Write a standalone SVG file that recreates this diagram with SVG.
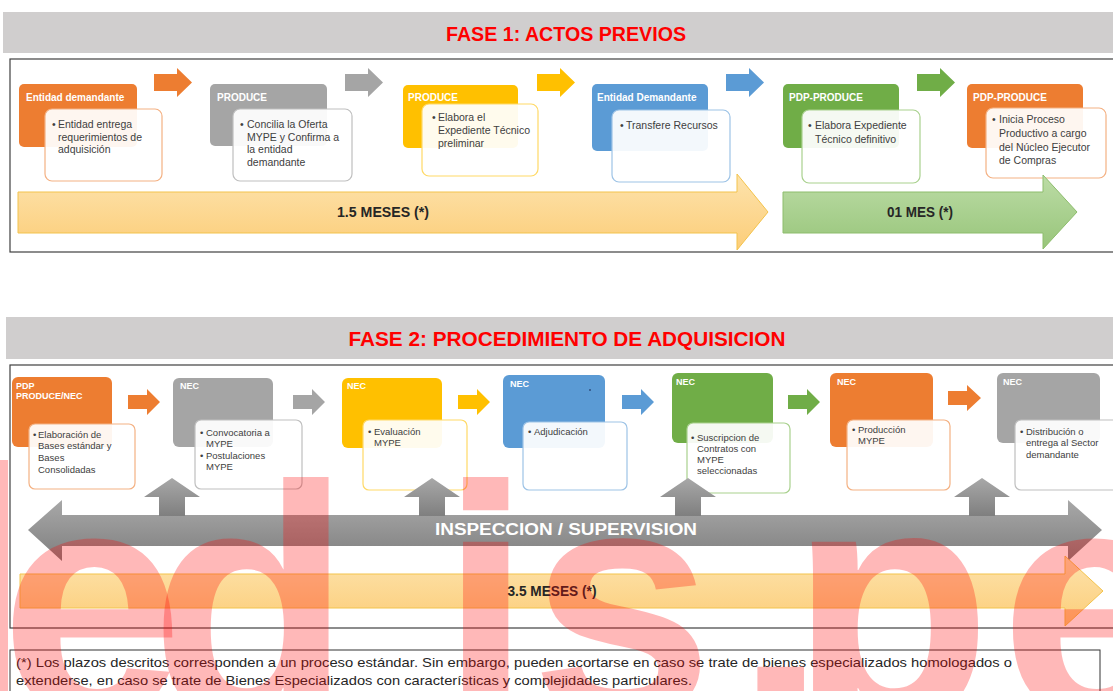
<svg xmlns="http://www.w3.org/2000/svg" width="1113" height="691" viewBox="0 0 1113 691">
<style>
text{font-family:"Liberation Sans",Arial,sans-serif}
.ttl{font-weight:bold;font-size:21px;fill:#ff0000}
.h1{font-weight:bold;font-size:10px;fill:#ffffff}
.h2{font-weight:bold;font-size:9px;fill:#ffffff}
.b1{font-size:10.5px;fill:#404040}
.b2{font-size:9.5px;fill:#404040}
.wb{fill:#ffffff;fill-opacity:0.93;stroke-width:1.2}
.frame{fill:none;stroke:#404040;stroke-width:1.2}
.big{font-weight:bold;font-size:15px;fill:#262626}
.org{fill:#ed7d31}.gry{fill:#a5a5a5}.yel{fill:#ffc000}.blu{fill:#5b9bd5}.grn{fill:#70ad47}
.so{stroke:#f4b183}.sg{stroke:#bfbfbf}.sy{stroke:#ffd966}.sb{stroke:#9dc3e6}.sn{stroke:#a9d18e}
.wm{font-weight:bold;font-size:330px;fill:#ff0000;fill-opacity:0.28}
</style>
<defs>
<linearGradient id="gy" x1="0" y1="0" x2="0" y2="1"><stop offset="0" stop-color="#fde3ad"/><stop offset="1" stop-color="#fccd78"/></linearGradient>
<linearGradient id="gg" x1="0" y1="0" x2="0" y2="1"><stop offset="0" stop-color="#bcdca6"/><stop offset="1" stop-color="#98c57a"/></linearGradient>
<linearGradient id="gs" x1="0" y1="0" x2="0" y2="1"><stop offset="0" stop-color="#a8a8a8"/><stop offset="1" stop-color="#7f7f7f"/></linearGradient>
</defs>
<rect width="1113" height="691" fill="#ffffff"/>

<!-- Phase 1 title -->
<g id="title1">
<rect x="3" y="12" width="1110" height="41" fill="#d0cece"/>
<text class="ttl" x="566" y="41" text-anchor="middle" textLength="240" lengthAdjust="spacingAndGlyphs">FASE 1: ACTOS PREVIOS</text>
</g>
<rect class="frame" x="10" y="59" width="1110" height="193"/>

<g id="p1n1">
<rect class="org" x="19" y="84" width="118" height="63" rx="5"/>
<text class="h1" x="26" y="101">Entidad demandante</text>
<rect class="wb so" x="45" y="109" width="117" height="72" rx="7"/>
<text class="b1" x="52" y="128">•</text>
<text class="b1"><tspan x="58" y="128">Entidad entrega</tspan><tspan x="58" y="141">requerimientos de</tspan><tspan x="58" y="153">adquisición</tspan></text>
</g>
<g id="p1n2">
<rect class="gry" x="210" y="84" width="117" height="62" rx="5"/>
<text class="h1" x="217" y="101">PRODUCE</text>
<rect class="wb sg" x="233" y="109" width="119" height="72" rx="7"/>
<text class="b1" x="240" y="128">•</text>
<text class="b1"><tspan x="247" y="128">Concilia la Oferta</tspan><tspan x="247" y="141">MYPE y Confirma a</tspan><tspan x="247" y="153">la entidad</tspan><tspan x="247" y="166">demandante</tspan></text>
</g>
<g id="p1n3">
<rect class="yel" x="403" y="85" width="115" height="63" rx="5"/>
<text class="h1" x="408" y="101">PRODUCE</text>
<rect class="wb sy" x="422" y="104" width="116" height="72" rx="7"/>
<text class="b1" x="432" y="121">•</text>
<text class="b1"><tspan x="438" y="121">Elabora el</tspan><tspan x="438" y="134">Expediente Técnico</tspan><tspan x="438" y="147">preliminar</tspan></text>
</g>
<g id="p1n4">
<rect class="blu" x="592" y="84" width="116" height="67" rx="5"/>
<text class="h1" x="597" y="101">Entidad Demandante</text>
<rect class="wb sb" x="612" y="110" width="118" height="72" rx="7"/>
<text class="b1" x="620" y="129">•</text>
<text class="b1" x="626" y="129">Transfere Recursos</text>
</g>
<g id="p1n5">
<rect class="grn" x="783" y="84" width="116" height="64" rx="5"/>
<text class="h1" x="789" y="101">PDP-PRODUCE</text>
<rect class="wb sn" x="802" y="110" width="118" height="73" rx="7"/>
<text class="b1" x="808" y="129">•</text>
<text class="b1"><tspan x="815" y="129">Elabora Expediente</tspan><tspan x="815" y="143">Técnico definitivo</tspan></text>
</g>
<g id="p1n6">
<rect class="org" x="967" y="84" width="116" height="64" rx="5"/>
<text class="h1" x="973" y="101">PDP-PRODUCE</text>
<rect class="wb so" x="986" y="108" width="120" height="70" rx="7"/>
<text class="b1" x="992" y="123">•</text>
<text class="b1"><tspan x="999" y="123">Inicia Proceso</tspan><tspan x="999" y="137">Productivo a cargo</tspan><tspan x="999" y="151">del Núcleo Ejecutor</tspan><tspan x="999" y="164">de Compras</tspan></text>
</g>

<g id="p1conn">
<path class="org" d="M154,74 H177 V68 L192,82.5 L177,97 V91 H154 Z"/>
<path class="gry" d="M345,74 H368 V68 L383,82.5 L368,97 V91 H345 Z"/>
<path class="yel" d="M537,74 H560 V68 L575,82.5 L560,97 V91 H537 Z"/>
<path class="blu" d="M726,74 H749 V68 L764,82.5 L749,97 V91 H726 Z"/>
<path class="grn" d="M917,74 H940 V68 L955,82.5 L940,97 V91 H917 Z"/>
</g>

<g id="p1time1">
<path d="M18,192 H737 V174 L768,212 L737,250 V233 H18 Z" fill="url(#gy)" stroke="#f3c34c" stroke-width="1"/>
<text class="big" x="383" y="217" text-anchor="middle" textLength="92" lengthAdjust="spacingAndGlyphs">1.5 MESES (*)</text>
</g>
<g id="p1time2">
<path d="M783,192 H1043 V175 L1077,212 L1043,249 V233 H783 Z" fill="url(#gg)" stroke="#8dbd6c" stroke-width="1"/>
<text class="big" x="920" y="217" text-anchor="middle" textLength="66" lengthAdjust="spacingAndGlyphs">01 MES (*)</text>
</g>

<!-- Phase 2 title -->
<g id="title2">
<rect x="6" y="317" width="1107" height="42" fill="#d0cece"/>
<text class="ttl" x="567" y="346" text-anchor="middle" textLength="437" lengthAdjust="spacingAndGlyphs">FASE 2: PROCEDIMIENTO DE ADQUISICION</text>
</g>
<rect class="frame" x="10" y="365" width="1110" height="263" stroke-width="1.6"/>

<g id="p2n1">
<rect class="org" x="12" y="377" width="100" height="70" rx="6"/>
<text class="h2"><tspan x="16" y="389">PDP</tspan><tspan x="16" y="399">PRODUCE/NEC</tspan></text>
<rect class="wb so" x="29" y="424" width="106" height="65" rx="6"/>
<text class="b2" x="33" y="438">•</text>
<text class="b2"><tspan x="38" y="438">Elaboración de</tspan><tspan x="38" y="449">Bases estándar y</tspan><tspan x="38" y="461">Bases</tspan><tspan x="38" y="473">Consolidadas</tspan></text>
</g>
<g id="p2n2">
<rect class="gry" x="173" y="378" width="100" height="69" rx="6"/>
<text class="h2" x="180" y="389">NEC</text>
<rect class="wb sg" x="195" y="420" width="107" height="69" rx="6"/>
<text class="b2" x="200" y="436">•</text>
<text class="b2"><tspan x="206" y="436">Convocatoria a</tspan><tspan x="206" y="447">MYPE</tspan></text>
<text class="b2" x="200" y="459">•</text>
<text class="b2"><tspan x="206" y="459">Postulaciones</tspan><tspan x="206" y="470">MYPE</tspan></text>
</g>
<g id="p2n3">
<rect class="yel" x="342" y="378" width="100" height="70" rx="6"/>
<text class="h2" x="347" y="389">NEC</text>
<rect class="wb sy" x="363" y="420" width="104" height="70" rx="6"/>
<text class="b2" x="368" y="435">•</text>
<text class="b2"><tspan x="374" y="435">Evaluación</tspan><tspan x="374" y="446">MYPE</tspan></text>
</g>
<g id="p2n4">
<rect class="blu" x="503" y="375" width="102" height="73" rx="6"/>
<text class="h2" x="510" y="387">NEC</text>
<circle cx="590" cy="390" r="1" fill="#2f4f7f"/>
<rect class="wb sb" x="523" y="422" width="104" height="68" rx="6"/>
<text class="b2" x="528" y="435">•</text>
<text class="b2" x="534" y="435">Adjudicación</text>
</g>
<g id="p2n5">
<rect class="grn" x="672" y="373" width="101" height="70" rx="6"/>
<text class="h2" x="676" y="385">NEC</text>
<rect class="wb sn" x="687" y="423" width="103" height="70" rx="6"/>
<text class="b2" x="691" y="441">•</text>
<text class="b2"><tspan x="697" y="441">Suscripcion de</tspan><tspan x="697" y="452">Contratos con</tspan><tspan x="697" y="463">MYPE</tspan><tspan x="697" y="474">seleccionadas</tspan></text>
</g>
<g id="p2n6">
<rect class="org" x="830" y="373" width="103" height="74" rx="6"/>
<text class="h2" x="837" y="385">NEC</text>
<rect class="wb so" x="847" y="420" width="103" height="70" rx="6"/>
<text class="b2" x="852" y="433">•</text>
<text class="b2"><tspan x="858" y="433">Producción</tspan><tspan x="858" y="444">MYPE</tspan></text>
</g>
<g id="p2n7">
<rect class="gry" x="997" y="373" width="103" height="70" rx="6"/>
<text class="h2" x="1003" y="385">NEC</text>
<rect class="wb sg" x="1015" y="420" width="110" height="70" rx="6"/>
<text class="b2" x="1020" y="435">•</text>
<text class="b2"><tspan x="1026" y="435">Distribución o</tspan><tspan x="1026" y="446">entrega al Sector</tspan><tspan x="1026" y="458">demandante</tspan></text>
</g>

<g id="p2conn">
<path class="org" d="M128,395 H147 V389 L160,402 L147,415 V409 H128 Z"/>
<path class="gry" d="M293,395 H312 V389 L325,402 L312,415 V409 H293 Z"/>
<path class="yel" d="M458,395 H477 V389 L490,402 L477,415 V409 H458 Z"/>
<path class="blu" d="M622,395 H641 V389 L654,402 L641,415 V409 H622 Z"/>
<path class="grn" d="M788,395 H807 V389 L820,402 L807,415 V409 H788 Z"/>
<path class="org" d="M948,391 H967 V385 L981,398 L967,411 V405 H948 Z"/>
</g>

<g id="inspeccion">
<path d="M28,530 L62,500 V515 H1068 V500 L1102,530 L1068,561 V546 H62 V561 Z" fill="url(#gs)"/>
<path d="M144,497 L172,478 L200,497 H185 V516 H159 V497 Z" fill="url(#gs)"/>
<path d="M404,497 L432,478 L460,497 H445 V516 H419 V497 Z" fill="url(#gs)"/>
<path d="M660,497 L688,478 L716,497 H701 V516 H675 V497 Z" fill="url(#gs)"/>
<path d="M954,497 L982,478 L1010,497 H995 V516 H969 V497 Z" fill="url(#gs)"/>
<text x="566" y="535" text-anchor="middle" font-weight="bold" font-size="16" fill="#ffffff" textLength="262" lengthAdjust="spacingAndGlyphs">INSPECCION / SUPERVISION</text>
</g>

<g id="p2time">
<path d="M20,574 H1065 V556 L1103,591 L1065,626 V608 H20 Z" fill="url(#gy)" stroke="#f3c34c" stroke-width="1"/>
<text class="big" x="552" y="596" text-anchor="middle" textLength="89" lengthAdjust="spacingAndGlyphs">3.5 MESES (*)</text>
</g>

<g id="nota">
<rect x="10" y="650" width="1090" height="50" fill="none" stroke="#333333" stroke-width="1"/>
<text font-size="13.5" fill="#262626"><tspan x="16" y="667" textLength="996" lengthAdjust="spacingAndGlyphs">(*) Los plazos descritos corresponden a un proceso estándar. Sin embargo, pueden acortarse en caso se trate de bienes especializados homologados o</tspan></text>
<text font-size="13.5" fill="#262626"><tspan x="16" y="685" textLength="676" lengthAdjust="spacingAndGlyphs">extenderse, en caso se trate de Bienes Especializados con características y complejidades particulares.</tspan></text>
</g>

<g id="watermark">
<rect x="0" y="460" width="8" height="231" fill="#ff0000" fill-opacity="0.28"/>
<text class="wm" x="0 150 440 530 735 790 1000" y="716">edis.pe</text>
</g>
</svg>
